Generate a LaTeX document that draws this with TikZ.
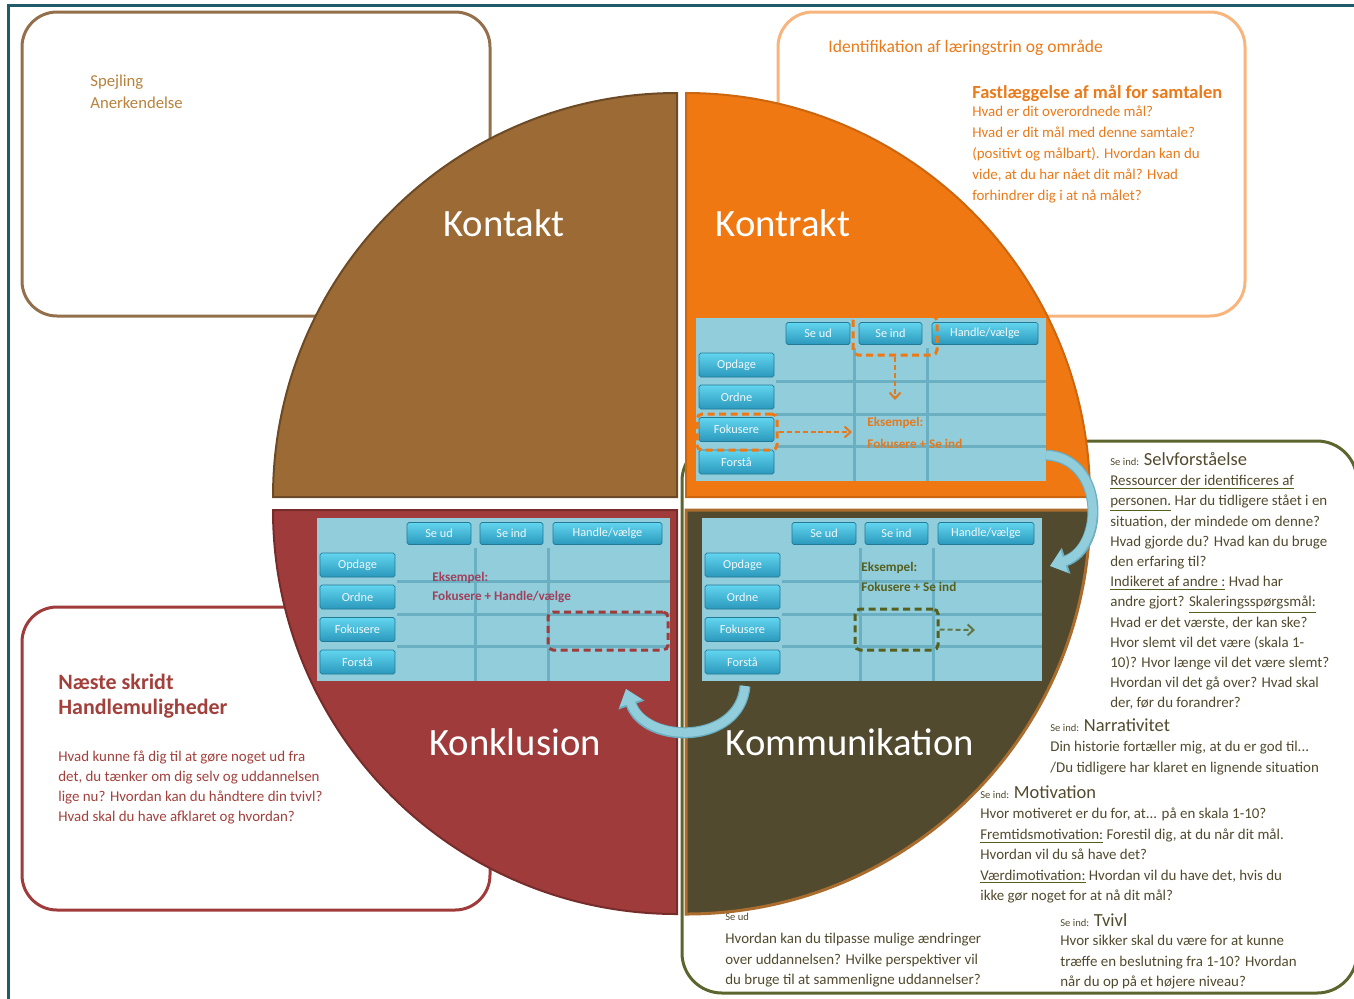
\documentclass[tikz,border=0pt]{standalone}
\usepackage{fontspec}
\setmainfont{Carlito}
\usepackage{tikz}
\usetikzlibrary{positioning,shapes,arrows.meta}

\definecolor{kontaktbrun}{HTML}{9B6A35}
\definecolor{kontraktorange}{HTML}{F07812}
\definecolor{konklusionrod}{HTML}{9F3B3A}
\definecolor{kommolivin}{HTML}{524A2E}
\definecolor{skemabla}{HTML}{92CDDC}
\definecolor{skemalinje}{HTML}{6AAFC2}
\definecolor{knaplys}{HTML}{62D5EF}
\definecolor{knapmork}{HTML}{2A98BC}
\definecolor{rammeteal}{HTML}{215A68}
\definecolor{olivstreg}{HTML}{56601E}
\definecolor{kontakttekst}{HTML}{B8823C}
\definecolor{kontrakttekst}{HTML}{EA7A1A}
\definecolor{konklusiontekst}{HTML}{A2403C}
\definecolor{eksrod}{HTML}{A0405A}

\tikzset{
	knap/.style={rectangle, rounded corners=1pt, top color=knaplys, bottom color=knapmork, draw=knapmork!80!black, line width=0.4pt, text=white!85!skemabla, font=\fontsize{7}{8}\selectfont, inner sep=0pt},
	boks/.style={draw=#1, line width=0.06cm, rounded corners=0.7cm, fill=white},
	markering/.style={draw=#1, line width=0.06cm, dash pattern=on 0.14cm off 0.09cm, rounded corners=0.1cm, inner sep=0pt},
	stiplet/.style={draw=#1, line width=0.04cm, dash pattern=on 0.1cm off 0.06cm, -{Straight Barb[length=0.12cm, width=0.22cm]}},
	titel/.style={text=white, font=\fontsize{22}{26}\selectfont},
	brodtekst/.style={anchor=north west, align=left, inner sep=0pt, font=\fontsize{9}{11.6}\selectfont},
	eksempel/.style={anchor=west, inner sep=0pt, font=\fontsize{7.5}{9}\selectfont\bfseries},
	pil/.style={line width=0.17cm, draw=skemabla, -{Triangle[length=0.3cm, width=0.45cm]}, preaction={draw=skemalinje, line width=0.22cm, -{Triangle[length=0.34cm, width=0.53cm]}}}
}

% understregning i olivenfarve
\newcommand{\ulol}[1]{\textcolor{olivstreg}{\underline{\textcolor{kommolivin}{#1}}}}

% Skema med knapper: praefiks, x, y, bredde
\newcommand{\skema}[4]{%
	\begin{scope}[shift={(#2,#3)}]
		\fill[skemabla] (0,0) rectangle (#4,163);
		\draw[skemalinje, line width=0.06cm] (80,63) -- (#4,63) (80,96) -- (#4,96) (80,128) -- (#4,128) (158,30) -- (158,163) (231,30) -- (231,163);
		\node[knap, minimum width=1.28cm, minimum height=0.44cm] (#1-seud) at (122,15.5) {Se ud};
		\node[knap, minimum width=1.26cm, minimum height=0.44cm] (#1-seind) at (194.5,15.5) {Se ind};
		\node[knap, minimum width={(#4-244)*0.02cm}, minimum height=0.44cm] (#1-handle) at ({(#4+228)/2},15.5) {Handle/vælge};
		\node[knap, minimum width=1.5cm, minimum height=0.48cm] (#1-opdage) at (40.5,47) {Opdage};
		\node[knap, minimum width=1.5cm, minimum height=0.48cm] (#1-ordne) at (40.5,79) {Ordne};
		\node[knap, minimum width=1.5cm, minimum height=0.48cm] (#1-fokusere) at (40.5,111.5) {Fokusere};
		\node[knap, minimum width=1.5cm, minimum height=0.48cm] (#1-forstaa) at (40.5,144) {Forstå};
	\end{scope}}

\begin{document}
\begin{tikzpicture}[x=0.02cm, y=-0.02cm]
	\useasboundingbox (0,0) rectangle (1354,998);

	% Ramme
	\draw[rammeteal, line width=0.06cm] (8.5,999) -- (8.5,5.5) -- (1356,5.5);

	% Tekstbokse bag cirklen
	\draw[boks=kontaktbrun!70!gray] (22,12) rectangle (490,316);
	\draw[boks=kontraktorange!55] (778,12) rectangle (1245,316);
	\draw[boks=konklusionrod] (22,607) rectangle (490,910);
	\draw[boks=olivstreg!85!gray, rounded corners=0.8cm] (682,441) rectangle (1357,993);

	% Kvadranter
	\filldraw[fill=kontaktbrun, draw=kontaktbrun!70!black, line width=0.04cm] (677,497) -- ++(180:404) arc[start angle=180, end angle=270, radius=404] -- cycle;
	\filldraw[fill=kontraktorange, draw=kontraktorange!85!black, line width=0.04cm] (686,497) -- ++(270:404) arc[start angle=270, end angle=360, radius=404] -- cycle;
	\filldraw[fill=kommolivin, draw=kontaktbrun!85!orange, line width=0.06cm] (686,510) -- ++(0:404) arc[start angle=0, end angle=90, radius=404] -- cycle;
	\filldraw[fill=konklusionrod, draw=konklusionrod!75!black, line width=0.04cm] (677,510) -- ++(90:404) arc[start angle=90, end angle=180, radius=404] -- cycle;

	% Titler
	\node[titel] (kontakt) at (504,223) {Kontakt};
	\node[titel] (kontrakt) at (783,223) {Kontrakt};
	\node[titel] (konklusion) at (515,742) {Konklusion};
	\node[titel] (kommunikation) at (850,742) {Kommunikation};

	% Skemaer
	\skema{kt}{696}{318}{350}
	\skema{kl}{317}{518}{353}
	\skema{km}{702}{518}{340}

	% Kontrakt: eksempel
	\node[markering=kontraktorange, minimum width=1.68cm, minimum height=0.78cm] (kt-valg1) at (895,335.5) {};
	\node[markering=kontraktorange, minimum width=1.6cm, minimum height=0.72cm] (kt-valg2) at (737,432) {};
	\coordinate (kt-pilende1) at (895,400);
	\coordinate (kt-pilende2) at (852,432);
	\draw[stiplet=kontraktorange!70!brown] (kt-valg1.south) -- (kt-pilende1);
	\draw[stiplet=kontraktorange!70!brown] (kt-valg2.east) -- (kt-pilende2);
	\node[eksempel, text=kontraktorange!75!brown] (kt-eks) at (867,423) {Eksempel:};
	\node[eksempel, text=kontraktorange!75!brown] (kt-eks2) at (867,444) {Fokusere + Se ind};

	% Konklusion: eksempel
	\node[eksempel, text=eksrod] (kl-eks) at (432,578) {Eksempel:};
	\node[eksempel, text=eksrod] (kl-eks2) at (432,597) {Fokusere + Handle/vælge};
	\node[markering=konklusionrod, minimum width=2.4cm, minimum height=0.76cm] (kl-valg) at (608,631) {};

	% Kommunikation: eksempel
	\node[eksempel, text=olivstreg] (km-eks) at (861,568) {Eksempel:};
	\node[eksempel, text=olivstreg] (km-eks2) at (861,587) {Fokusere + Se ind};
	\node[markering=olivstreg, minimum width=1.66cm, minimum height=0.82cm] (km-valg) at (896.5,629.5) {};
	\coordinate (km-pilende) at (975,630);
	\draw[stiplet=olivstreg!80!skemabla] (km-valg.east) -- (km-pilende);

	% Buede pile mellem skemaerne
	\coordinate (kt-ud) at (1046,455);
	\coordinate (km-ind) at (1050,566);
	\draw[pil] (kt-ud) .. controls (1105,458) and (1105,548) .. (km-ind);
	\coordinate (km-ud) at (745,686);
	\coordinate (kl-ind) at (626,689);
	\draw[pil] (km-ud) .. controls (740,745) and (645,745) .. (kl-ind);

	% Kontakt-boks
	\node[brodtekst, text=kontakttekst, font=\fontsize{9.5}{12.5}\selectfont] (spejling) at (90,75) {Spejling\\Anerkendelse};

	% Kontrakt-boks
	\node[brodtekst, text=kontrakttekst, font=\fontsize{10}{12}\selectfont] (identifikation) at (828,40) {Identifikation af læringstrin og område};
	\node[brodtekst, text=kontrakttekst, font=\fontsize{10.5}{12}\selectfont\bfseries] (fastlaeggelse) at (972,85) {Fastlæggelse af mål for samtalen};
	\node[brodtekst, text=kontrakttekst, font=\fontsize{8.5}{11.9}\selectfont] (maal) at (972,106) {Hvad er dit overordnede mål?\\Hvad er dit mål med denne samtale?\\(positivt og målbart). Hvordan kan du\\vide, at du har nået dit mål? Hvad\\forhindrer dig i at nå målet?};

	% Konklusion-boks
	\node[brodtekst, text=konklusiontekst, font=\fontsize{12.5}{14}\selectfont\bfseries] (naeste) at (58,674) {Næste skridt\\Handlemuligheder};
	\node[brodtekst, text=konklusiontekst, font=\fontsize{8.5}{11.3}\selectfont] (handle) at (58,751) {Hvad kunne få dig til at gøre noget ud fra\\det, du tænker om dig selv og uddannelsen\\lige nu? Hvordan kan du håndtere din tvivl?\\Hvad skal du have afklaret og hvordan?};

	% Kommunikation-boks
	\node[brodtekst, text=kommolivin] (selv) at (1110,452) {{\fontsize{6}{7}\selectfont Se ind:} {\fontsize{10.5}{12}\selectfont Selvforståelse}};
	\node[brodtekst, text=kommolivin, font=\fontsize{8.5}{11.5}\selectfont] (selvtekst) at (1110,475) {\ulol{Ressourcer der identificeres af}\\\ulol{personen.} Har du tidligere stået i en\\situation, der mindede om denne?\\Hvad gjorde du? Hvad kan du bruge\\den erfaring til?\\\ulol{Indikeret af andre :} Hvad har\\andre gjort? \ulol{Skaleringsspørgsmål:}\\Hvad er det værste, der kan ske?\\Hvor slemt vil det være (skala 1-\\10)? Hvor længe vil det være slemt?\\Hvordan vil det gå over? Hvad skal\\der, før du forandrer?};
	\node[brodtekst, text=kommolivin] (narrativ) at (1050,718) {{\fontsize{6}{7}\selectfont Se ind:} {\fontsize{10.5}{12}\selectfont Narrativitet}};
	\node[brodtekst, text=kommolivin, font=\fontsize{8.5}{12}\selectfont] (narrativtekst) at (1050,741) {Din historie fortæller mig, at du er god til...\\/Du tidligere har klaret en lignende situation};
	\node[brodtekst, text=kommolivin] (motivation) at (980,785) {{\fontsize{6}{7}\selectfont Se ind:} {\fontsize{10.5}{12}\selectfont Motivation}};
	\node[brodtekst, text=kommolivin, font=\fontsize{8.5}{11.6}\selectfont] (motivationtekst) at (980,808) {Hvor motiveret er du for, at... på en skala 1-10?\\\ulol{Fremtidsmotivation:} Forestil dig, at du når dit mål.\\Hvordan vil du så have det?\\\ulol{Værdimotivation:} Hvordan vil du have det, hvis du\\ikke gør noget for at nå dit mål?};
	\node[brodtekst, text=kommolivin, font=\fontsize{6}{7}\selectfont] (seud) at (725,913) {Se ud};
	\node[brodtekst, text=kommolivin, font=\fontsize{8.5}{11.6}\selectfont] (seudtekst) at (725,933) {Hvordan kan du tilpasse mulige ændringer\\over uddannelsen? Hvilke perspektiver vil\\du bruge til at sammenligne uddannelser?};
	\node[brodtekst, text=kommolivin] (tvivl) at (1060,913) {{\fontsize{6}{7}\selectfont Se ind:} {\fontsize{10.5}{12}\selectfont Tvivl}};
	\node[brodtekst, text=kommolivin, font=\fontsize{8.5}{11.6}\selectfont] (tvivltekst) at (1060,935) {Hvor sikker skal du være for at kunne\\træffe en beslutning fra 1-10? Hvordan\\når du op på et højere niveau?};
\end{tikzpicture}
\end{document}
